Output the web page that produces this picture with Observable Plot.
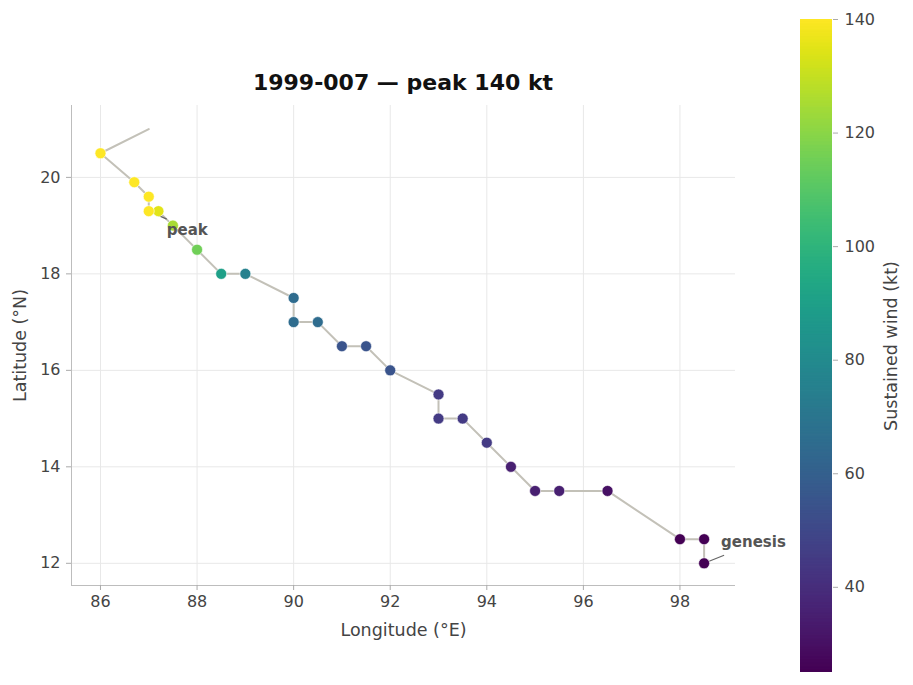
<!DOCTYPE html>
<html>
<head>
<meta charset="utf-8">
<script src="https://cdn.jsdelivr.net/npm/d3@7"></script>
<script src="https://cdn.jsdelivr.net/npm/@observablehq/plot@0.6"></script>
<style>
  body { margin: 0; background: #fff; }
  #chart { position: relative; width: 913px; height: 685px; font-family: "DejaVu Sans", sans-serif; }
  #title { position: absolute; left: 71px; width: 664px; top: 70px; text-align: center;
           font-weight: bold; font-size: 22px; color: #111; line-height: 26px; }
  #main { position: absolute; left: 0; top: 0; }
  #bar { position: absolute; left: 780px; top: 0; }
</style>
</head>
<body>
<div id="chart">
  <div id="title">1999-007 — peak 140 kt</div>
  <div id="main"></div>
  <div id="bar"></div>
</div>
<script>
// Best-track fixes, genesis first. The last fix has no wind reading.
const lon  = [98.5, 98.5, 98.0, 96.5, 95.5, 95.0, 94.5, 94.0, 93.5, 93.0, 93.0, 92.0, 91.5, 91.0,
              90.5, 90.0, 90.0, 89.0, 88.5, 88.0, 87.5, 87.2, 87.0, 87.0, 86.7, 86.0, 87.0];
const lat  = [12.0, 12.5, 12.5, 13.5, 13.5, 13.5, 14.0, 14.5, 15.0, 15.0, 15.5, 16.0, 16.5, 16.5,
              17.0, 17.0, 17.5, 18.0, 18.0, 18.5, 19.0, 19.3, 19.3, 19.6, 19.9, 20.5, 21.0];
const wind = [25, 25, 25, 30, 35, 35, 35, 45, 45, 45, 45, 55, 55, 55,
              65, 65, 65, 75, 90, 115, 125, 135, 140, 140, 140, 140, null];

const xTicks = [86, 88, 90, 92, 94, 96, 98];
const yTicks = [12, 14, 16, 18, 20];
const windTicks = [40, 60, 80, 100, 120, 140];
const xDomain = [85.4, 99.15];
const yDomain = [11.54, 21.49];
const windDomain = [25, 140];

const track = lon.map((x, i) => ({lon: x, lat: lat[i], wind: wind[i]}));
const fixes = track.filter(d => d.wind != null);

// genesis = first fix, peak = first fix at maximum wind
const peakIndex = wind.indexOf(d3.max(wind));
const genesis = track[0];
const peak = track[peakIndex];

// layout
const W = 780, H = 685, ML = 71, MR = 45, MT = 105, MB = 100;
const kx = (W - ML - MR) / (xDomain[1] - xDomain[0]);
const ky = (H - MT - MB) / (yDomain[1] - yDomain[0]);
// leader line from a fix towards its label, offsets in pixels
const leader = (d, px, py) => ({x1: d.lon, y1: d.lat, x2: d.lon + px / kx, y2: d.lat - py / ky});

const color = {type: "linear", scheme: "viridis", domain: windDomain};
const baseStyle = {fontFamily: "DejaVu Sans, sans-serif", fontSize: "16px", color: "#444",
                   background: "transparent", overflow: "visible"};

const main = Plot.plot({
  width: W, height: H,
  marginLeft: ML, marginRight: MR, marginTop: MT, marginBottom: MB,
  style: baseStyle,
  x: {domain: xDomain},
  y: {domain: yDomain},
  color,
  marks: [
    Plot.gridX(xTicks, {stroke: "#e8e8e8", strokeOpacity: 1}),
    Plot.gridY(yTicks, {stroke: "#e8e8e8", strokeOpacity: 1}),
    Plot.ruleX([xDomain[0]], {stroke: "#bdbdbd"}),
    Plot.ruleY([yDomain[0]], {stroke: "#bdbdbd"}),
    Plot.axisX(xTicks, {tickSize: 5, tickPadding: 5, stroke: "#aaa", fill: "#444", label: null}),
    Plot.axisY(yTicks, {tickSize: 5, tickPadding: 6, stroke: "#aaa", fill: "#444", label: null}),
    Plot.text(["Longitude (°E)"], {frameAnchor: "bottom", dy: 50, textAnchor: "middle", fontSize: 17.5, fill: "#444"}),
    Plot.text(["Latitude (°N)"], {frameAnchor: "left", dx: -51, rotate: -90, textAnchor: "middle", fontSize: 17.5, fill: "#444"}),
    Plot.line(track, {x: "lon", y: "lat", stroke: "#c3c1b8", strokeWidth: 2}),
    Plot.link([leader(genesis, 20, -8), leader(peak, 18, 8)],
      {x1: "x1", y1: "y1", x2: "x2", y2: "y2", stroke: "#666", strokeWidth: 1.2}),
    Plot.dot(fixes, {x: "lon", y: "lat", fill: "wind", r: 5.5, stroke: "#fff", strokeWidth: 0.6}),
    Plot.text([genesis], {x: "lon", y: "lat", text: () => "genesis", dx: 17, dy: -21,
      textAnchor: "start", fontWeight: "bold", fontSize: 15, fill: "#555"}),
    Plot.text([peak], {x: "lon", y: "lat", text: () => "peak", dx: 18, dy: 19,
      textAnchor: "start", fontWeight: "bold", fontSize: 15, fill: "#555"})
  ]
});
document.getElementById("main").append(main);

// vertical colour bar for sustained wind
const ramp = d3.range(windDomain[0], windDomain[1], 0.25);
const bar = Plot.plot({
  width: 133, height: H,
  marginLeft: 20, marginRight: 81, marginTop: 19, marginBottom: 13,
  style: baseStyle,
  x: {domain: [0, 1], axis: null},
  y: {domain: windDomain, axis: null},
  color,
  marks: [
    Plot.rect(ramp, {x1: () => 0, x2: () => 1, y1: d => d, y2: d => Math.min(d + 0.4, windDomain[1]), fill: d => d}),
    Plot.axisY(windTicks, {anchor: "right", tickSize: 5, tickPadding: 7, stroke: "#aaa", fill: "#444", label: null}),
    Plot.text(["Sustained wind (kt)"], {frameAnchor: "right", dx: 59, rotate: -90, textAnchor: "middle", fontSize: 17.5, fill: "#444"})
  ]
});
document.getElementById("bar").append(bar);
</script>
</body>
</html>
